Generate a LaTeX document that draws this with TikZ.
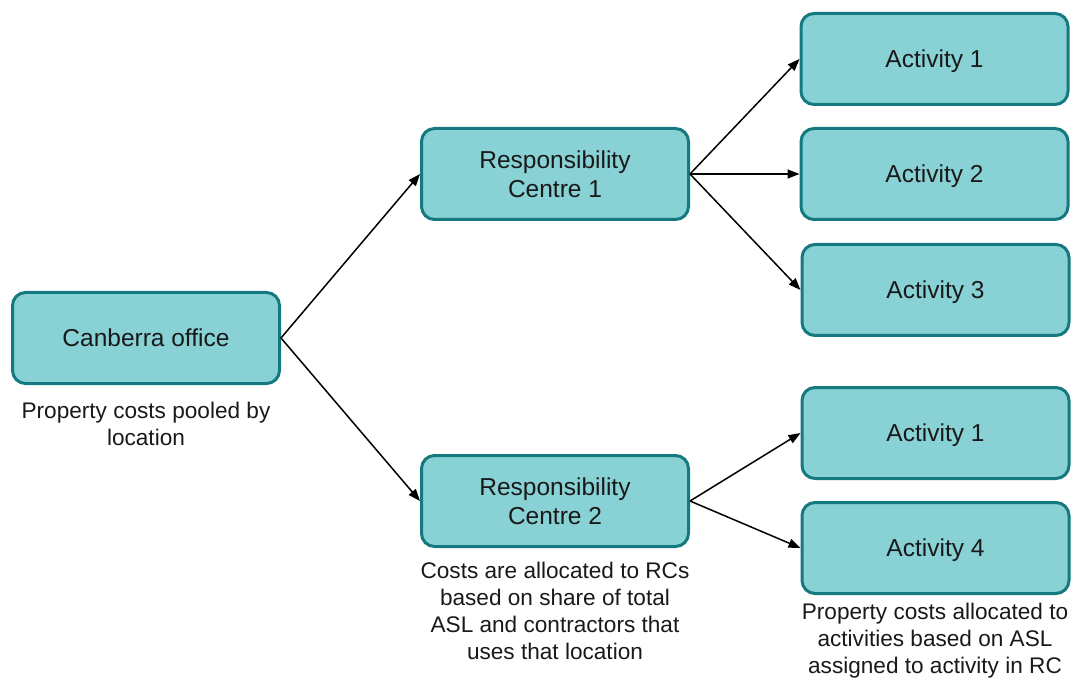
\documentclass[tikz,border=0pt]{standalone}
\usepackage{fontspec}
\setmainfont{Liberation Sans}
\usetikzlibrary{arrows.meta}
\definecolor{boxfill}{HTML}{88D1D4}
\definecolor{boxline}{HTML}{157A80}
\begin{document}
\begin{tikzpicture}[x=1pt,y=-1pt,
  box/.style={draw=boxline, fill=boxfill, line width=3pt, rounded corners=13pt,
    minimum width=267pt, minimum height=91pt, align=center, inner sep=0pt,
    font=\fontsize{24.5}{29}\selectfont, text=black!90},
  onebox/.style={box, text height=17.5pt, text depth=0pt},
  captxt/.style={align=center, font=\fontsize{22.6}{27}\selectfont, inner sep=0pt, text=black!90},
  conn/.style={line width=1.5pt, -{Triangle[length=12pt,width=9pt]}}]
\useasboundingbox (0,0) rectangle (1072,679);
\node[onebox] (cbr) at (146,338) {Canberra office};
\node[box] (rc1) at (555,174) {Responsibility\\Centre 1};
\node[box] (rc2) at (555,501) {Responsibility\\Centre 2};
\node[onebox] (a1) at (934.5,59) {Activity 1};
\node[onebox] (a2) at (934.5,174) {Activity 2};
\node[onebox] (a3) at (935.5,290) {Activity 3};
\node[onebox] (b1) at (935.5,433) {Activity 1};
\node[onebox] (b4) at (935.5,548) {Activity 4};
\node[captxt] (ccbr) at (146,423.5) {Property costs pooled by\\location};
\node[captxt] (crc2) at (555,610.5) {Costs are allocated to RCs\\based on share of total\\ASL and contractors that\\uses that location};
\node[captxt] (cb4) at (935,641) {Property costs allocated to\\activities based on ASL\\assigned to activity in RC};
\draw[conn] (cbr.east) -- (rc1.west);
\draw[conn] (cbr.east) -- (rc2.west);
\draw[conn] (rc1.east) -- (a1.west);
\draw[conn] (rc1.east) -- (a2.west);
\draw[conn] (rc1.east) -- (a3.west);
\draw[conn] (rc2.east) -- (b1.west);
\draw[conn] (rc2.east) -- (b4.west);
\end{tikzpicture}
\end{document}
